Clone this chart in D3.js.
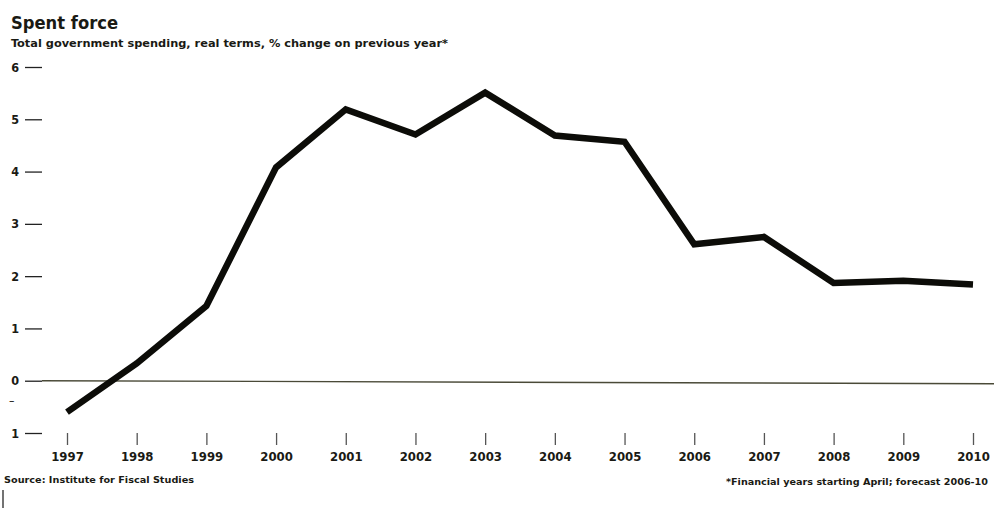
<!DOCTYPE html>
<html><head><meta charset="utf-8">
<script src="https://cdn.jsdelivr.net/npm/d3@7"></script>
<style>
body{margin:0;background:#fff;}
svg{display:block;}
text{font-family:"DejaVu Sans Condensed","Liberation Sans Narrow",sans-serif;fill:#1a1a14;}
</style></head><body>
<svg id="c" width="994" height="516"></svg>
<script>
const years = [1997,1998,1999,2000,2001,2002,2003,2004,2005,2006,2007,2008,2009,2010];
const spending = [-0.6,0.33,1.43,4.08,5.19,4.71,5.51,4.69,4.57,2.61,2.75,1.87,1.91,1.84];
const yTicks = [-1,0,1,2,3,4,5,6];
const title = "Spent force";
const subtitle = "Total government spending, real terms, % change on previous year*";
const source = "Source: Institute for Fiscal Studies";
const footnote = "*Financial years starting April; forecast 2006-10";

const svg = d3.select("#c");
const x = d3.scaleLinear().domain([1997,2010]).range([67,973]);
const y = d3.scaleLinear().domain([-1,6]).range([433,67]);

svg.append("text").attr("x",11).attr("y",29).attr("font-size",18).attr("font-weight","bold")
  .attr("textLength",107).attr("lengthAdjust","spacingAndGlyphs").text(title);
svg.append("text").attr("x",11).attr("y",47).attr("font-size",10.5).attr("font-weight","bold")
  .attr("textLength",437).attr("lengthAdjust","spacingAndGlyphs").text(subtitle);

// y axis
const yAxis = d3.axisLeft(y).tickValues(yTicks).tickSize(17).tickPadding(6)
  .tickFormat(d => d < 0 ? String(Math.abs(d)) : String(d));
const gy = svg.append("g").attr("transform","translate(42,0)").call(yAxis);
gy.select(".domain").remove();
gy.selectAll(".tick line").attr("stroke","#222").attr("stroke-width",1.3);
gy.selectAll(".tick text").attr("font-size",12.5).attr("font-weight","bold").attr("fill","#222");
// minus sign of -1 label, offset above as in the source print
svg.append("text").attr("x",9).attr("y",y(-0.47)).attr("font-size",12).attr("fill","#444").text("–");

// x axis
const xAxis = d3.axisBottom(x).tickValues(years).tickSize(12).tickPadding(7).tickFormat(d3.format("d"));
const gx = svg.append("g").attr("transform","translate(0,433)").call(xAxis);
gx.select(".domain").remove();
gx.selectAll(".tick line").attr("stroke","#555").attr("stroke-width",1.3);
gx.selectAll(".tick text").attr("font-size",13).attr("font-weight","bold").attr("fill","#222");

// zero line
svg.append("line").attr("x1",42).attr("x2",994).attr("y1",y(0)).attr("y2",y(0)+3)
  .attr("stroke","#4a4a38").attr("stroke-width",1.4);

// data line
const line = d3.line().x((d,i)=>x(years[i])).y(d=>y(d));
svg.append("path").datum(spending).attr("d",line).attr("fill","none")
  .attr("stroke","#0c0c08").attr("stroke-width",6.5).attr("stroke-linejoin","miter");

svg.append("text").attr("x",4).attr("y",483).attr("font-size",9.5).attr("font-weight","bold")
  .attr("textLength",190).attr("lengthAdjust","spacingAndGlyphs").text(source);
svg.append("text").attr("x",988).attr("y",485).attr("font-size",9.5).attr("font-weight","bold")
  .attr("text-anchor","end").attr("textLength",262).attr("lengthAdjust","spacingAndGlyphs").text(footnote);
svg.append("line").attr("x1",3).attr("x2",3).attr("y1",490).attr("y2",508).attr("stroke","#444").attr("stroke-width",1.5);
</script></body></html>
